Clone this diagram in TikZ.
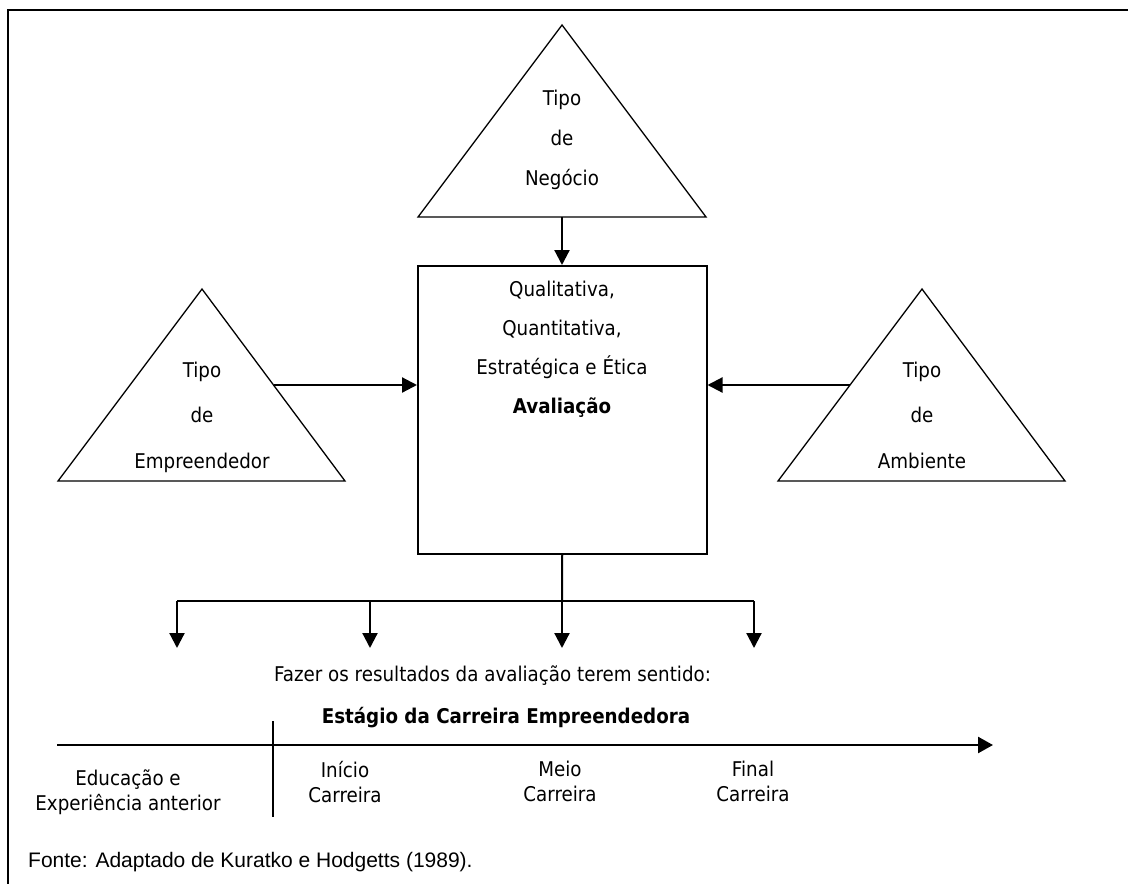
\documentclass[tikz,border=0pt]{standalone}
\usepackage{fontspec}
\setmainfont{DejaVu Sans}[FakeStretch=0.9]
\newfontfamily\sourcefont{Liberation Sans}
\usetikzlibrary{arrows.meta,calc}

\begin{document}
\begin{tikzpicture}[x=1pt,y=-1pt,
  frameline/.style={line width=1.3pt},
  shapeline/.style={line width=1.3pt, line join=miter},
  conn/.style={line width=2.2pt, -{Triangle[length=15pt,width=15pt]}},
  branch/.style={line width=1.6pt},
  blocktext/.style={align=center, inner sep=0pt, anchor=north},
  label/.style={inner sep=0pt, anchor=base}
]
\useasboundingbox (0,0) rectangle (1128,884);

% outer frame
\draw[frameline] (8,884) -- (8,10) -- (1128,10);

% top triangle: type of business
\coordinate (nA) at (562,25);
\coordinate (nL) at (418,217);
\coordinate (nR) at (706,217);
\draw[shapeline] (nA) -- (nL) -- (nR) -- cycle;
\node[blocktext, font=\fontsize{20.3}{40}\selectfont] (negocio) at (562,89.6) {Tipo\\de\\Negócio};

% left triangle: type of entrepreneur
\coordinate (lA) at (202,289);
\coordinate (lL) at (58,481);
\coordinate (lR) at (345,481);
\draw[shapeline] (lA) -- (lL) -- (lR) -- cycle;
\node[blocktext, font=\fontsize{20.3}{45.5}\selectfont] (empreendedor) at (202,361.6) {Tipo\\de\\Empreendedor};

% right triangle: type of environment
\coordinate (rA) at (922,289);
\coordinate (rL) at (778,481);
\coordinate (rR) at (1065,481);
\draw[shapeline] (rA) -- (rL) -- (rR) -- cycle;
\node[blocktext, font=\fontsize{20.3}{45.5}\selectfont] (ambiente) at (922,361.6) {Tipo\\de\\Ambiente};

% central evaluation box
\node[draw, line width=1.5pt, minimum width=289pt, minimum height=288pt,
      inner sep=0pt, anchor=north west] (box) at (417,265) {};
\node[blocktext, font=\fontsize{20.3}{39}\selectfont] (avaliacao) at (562,281.3)
  {Qualitativa,\\Quantitativa,\\Estratégica e Ética\\\textbf{Avaliação}};

% inputs into the box
\coordinate (nMid) at ($(nL)!0.5!(nR)$);
\coordinate (lMid) at ($(lA)!0.5!(lR)$);
\coordinate (rMid) at ($(rA)!0.5!(rL)$);
\draw[conn] (nMid) -- (nMid |- box.north);
\draw[conn] (lMid) -- (lMid -| box.west);
\draw[conn] (rMid) -- (rMid -| box.east);

% outputs of the box
\coordinate (split) at (562,601);
\coordinate (b1) at (177,601);
\coordinate (b2) at (370,601);
\coordinate (b3) at (562,601);
\coordinate (b4) at (754,601);
\coordinate (e1) at (177,648);
\coordinate (e2) at (370,648);
\coordinate (e3) at (562,648);
\coordinate (e4) at (754,648);
\draw[line width=2pt] (box.south) -- (split);
\draw[branch] (b1) -- (b4);
\draw[conn] (b1) -- (e1);
\draw[conn] (b2) -- (e2);
\draw[conn] (b3) -- (e3);
\draw[conn] (b4) -- (e4);

\node[label, font=\fontsize{20.3}{24}\selectfont] (sentido) at (492.5,681.7)
  {Fazer os resultados da avaliação terem sentido:};

% career stage timeline
\node[label, font=\fontsize{20.3}{24}\selectfont\bfseries] (estagio) at (506,723)
  {Estágio da Carreira Empreendedora};
\coordinate (tStart) at (57,745);
\coordinate (tEnd) at (993,745);
\draw[line width=2.5pt, -{Triangle[length=15pt,width=16pt]}] (tStart) -- (tEnd);
\coordinate (sepTop) at (273,721);
\coordinate (sepBot) at (273,817);
\draw[line width=1.5pt] (sepTop) -- (sepBot);

\node[blocktext, font=\fontsize{20.3}{25}\selectfont] (educacao) at (128,769.6)
  {Educação e\\Experiência anterior};
\node[blocktext, font=\fontsize{20.3}{25}\selectfont] (inicio) at (345,760.8)
  {Início\\Carreira};
\node[blocktext, font=\fontsize{20.3}{25}\selectfont] (meio) at (560,761.3)
  {Meio\\Carreira};
\node[blocktext, font=\fontsize{20.3}{25}\selectfont] (final) at (753,761.3)
  {Final\\Carreira};

% source
\node[inner sep=0pt, anchor=base west, font=\sourcefont\fontsize{21}{24}\selectfont] (fonte) at (28,867)
  {Fonte: Adaptado de Kuratko e Hodgetts (1989).};
\end{tikzpicture}
\end{document}
